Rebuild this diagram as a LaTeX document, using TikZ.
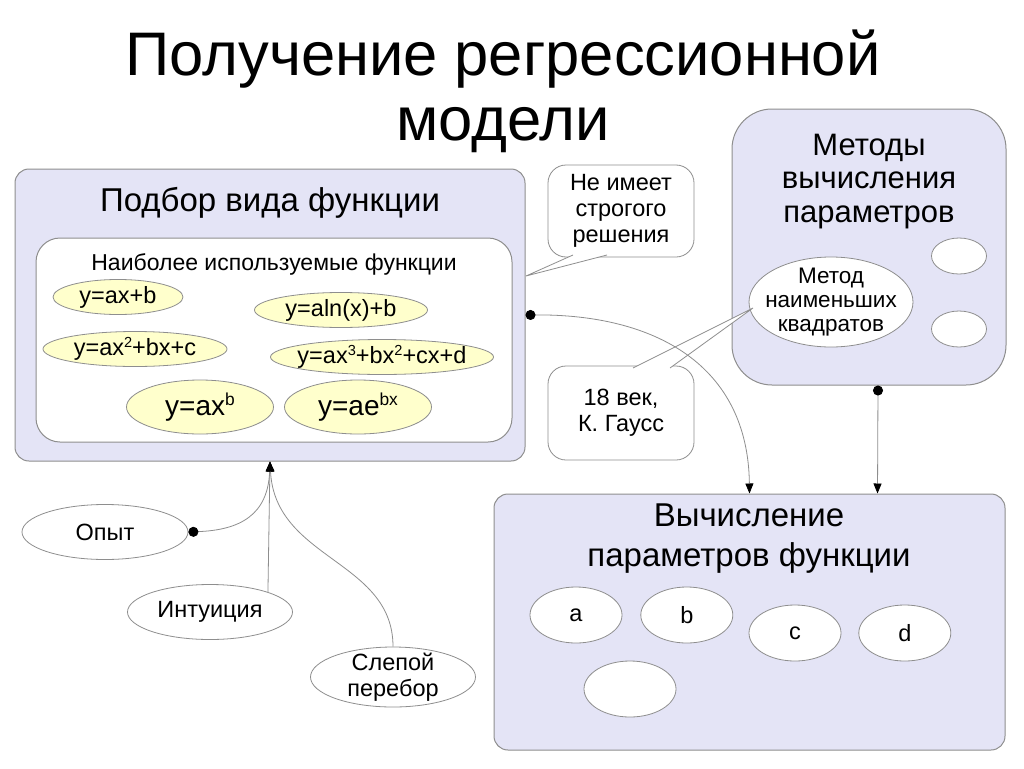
\documentclass[tikz,border=0pt]{standalone}
\usepackage{fontspec}
\setmainfont{Liberation Sans}
\usetikzlibrary{arrows.meta,positioning,shapes.geometric}
\definecolor{lav}{HTML}{E4E4F6}
\definecolor{edge}{HTML}{8E8E8E}
\definecolor{fnfill}{HTML}{FFFFCC}
\newcommand{\fsz}[2]{\fontsize{#1}{#2}\selectfont}
\newcommand{\pw}[1]{\raisebox{0.36em}{\scalebox{0.62}{#1}}}

\begin{document}
\begin{tikzpicture}[x=1pt,y=-1pt,
  grp/.style={draw=edge,fill=lav,line width=1pt,rounded corners=14pt,inner sep=0pt},
  fn/.style={ellipse,draw=edge,fill=fnfill,line width=0.8pt,inner xsep=-12pt,inner ysep=-6pt,minimum height=35pt,font=\fsz{23.5}{26}},
  bigfn/.style={fn,minimum width=147pt,minimum height=54pt,font=\fsz{28}{30}},
  ov/.style={ellipse,draw=edge,fill=white,line width=0.8pt,inner xsep=-12pt,inner ysep=-6pt,minimum width=92pt,minimum height=56pt,font=\fsz{23.5}{26}},
  note/.style={draw=edge,fill=white,line width=0.8pt,rounded corners=18pt,align=center,minimum width=146pt,font=\fsz{23.5}{26}},
  con/.style={draw=edge,line width=0.8pt},
  dot/.style={{Circle[length=10pt,color=black]}-{Triangle[length=10pt,width=8pt,color=black]}},
  >={Triangle[length=10pt,width=8pt,color=black]}]

\useasboundingbox[fill=white] (0,0) rectangle (1024,768);

% title
\node[align=center,font=\fsz{61.5}{65},anchor=base] (title) at (503,140) {Получение регрессионной\\модели};

% left group
\node[grp,minimum width=510pt,minimum height=292pt] (fitbox) at (270,315) {};
\node[font=\fsz{33}{36},anchor=base] (fittitle) at (270,211) {Подбор вида функции};
\node[grp,fill=white,rounded corners=24pt,minimum width=476pt,minimum height=204pt] (usedbox) at (274,340) {};
\node[font=\fsz{23}{26},anchor=base] (usedtitle) at (274,270) {Наиболее используемые функции};
\node[fn,minimum width=130pt] (flin) at (118,297) {y=ax+b};
\node[fn,minimum width=173pt] (flog) at (341,310) {y=aln(x)+b};
\node[fn,minimum width=184pt] (fsq) at (135,349) {y=ax\pw{2}+bx+c};
\node[fn,minimum width=223pt] (fcub) at (382,357) {y=ax\pw{3}+bx\pw{2}+cx+d};
\node[bigfn] (fpow) at (200,407) {y=ax\pw{b}};
\node[bigfn] (fexp) at (358,407) {y=ae\pw{bx}};

% methods
\node[grp,rounded corners=40pt,minimum width=274pt,minimum height=276pt] (methods) at (869,247) {};
\node[align=center,font=\fsz{31}{33.5},anchor=base] (mtitle) at (869,222) {Методы\\вычисления\\параметров};
\node[ov,minimum width=55pt,minimum height=36pt] (mslot1) at (959,256) {};
\node[ov,minimum width=55pt,minimum height=36pt] (mslot2) at (959,329) {};
\node[ov,minimum width=164pt,minimum height=90pt,align=center,font=\fsz{22.5}{24}] (mnk) at (831,302) {Метод\\наименьших\\квадратов};

% parameters
\node[grp,minimum width=511pt,minimum height=256pt] (calc) at (749.5,622) {};
\node[align=center,font=\fsz{33}{40},anchor=base] (ctitle) at (749,566) {Вычисление\\параметров функции};
\node[ov] (pa) at (576,615) {a};
\node[ov,right=18pt of pa] (pb) {b};
\node[ov] (pc) at (795,633) {c};
\node[ov,right=17pt of pc] (pd) {d};
\node[ov] (pe) at (630,689) {};

% notes
\node[note,minimum height=92pt] (nosol) at (621,211) {Не имеет\\строгого\\решения};
\coordinate (nosolA) at (573,255);
\coordinate (nosolB) at (607,255);
\coordinate (nosolTip) at (526,276);
\fill[white] (nosolA) -- (nosolTip) -- (nosolB) -- cycle;
\draw[con] (nosolA) -- (nosolTip) -- (nosolB);

\node[note,minimum height=94pt] (gauss) at (621,413) {18 век,\\К. Гаусс};
\coordinate (gaussA) at (633,368);
\coordinate (gaussB) at (670,368);
\coordinate (gaussTip) at (753,308);
\fill[white] (gaussA) -- (gaussTip) -- (gaussB) -- cycle;
\draw[con] (gaussA) -- (gaussTip) -- (gaussB);

% sources
\node[ov,minimum width=166pt,minimum height=55pt] (opyt) at (105,532) {Опыт};
\node[ov,minimum width=165pt,minimum height=55pt] (intu) at (210,612) {Интуиция};
\node[ov,minimum width=165pt,minimum height=60pt,align=center] (slep) at (393,677) {Слепой\\перебор};

% connectors
\draw[con,dot] (fitbox.east) .. controls (655,314) and (748,365) .. (calc.north);
\draw[con,dot] ([xshift=9pt]methods.south) -- ([xshift=128pt]calc.north);
\draw[con,dot] (opyt.east) .. controls (240,530) and (268,515) .. (fitbox.south);
\draw[con,->] (intu.19) -- (fitbox.south);
\draw[con,->] (slep.north) .. controls (393,560) and (275,560) .. (fitbox.south);
\end{tikzpicture}
\end{document}
